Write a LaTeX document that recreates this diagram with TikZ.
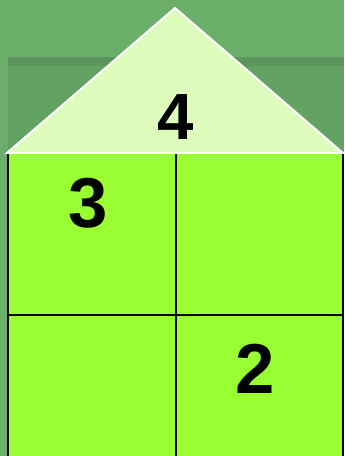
\documentclass[tikz,border=0pt]{standalone}
\usepackage{fontspec}
\setmainfont{Liberation Sans}
\definecolor{bggreen}{HTML}{6AAE6A}
\definecolor{shadegreen}{HTML}{63A263}
\definecolor{roofgreen}{HTML}{DDFBBB}
\definecolor{wallgreen}{HTML}{99FF33}
\tikzset{digit/.style={font=\fontsize{53}{53}\selectfont\bfseries, inner sep=0pt}}
\begin{document}
\begin{tikzpicture}[x=0.75pt,y=-0.75pt]
  \fill[bggreen] (0,0) rectangle (344,456);
  \useasboundingbox (0,0) rectangle (344,456);
  \fill[shadegreen] (8,57) rectangle (344,456);
  \fill[shadegreen!92!black] (8,57) rectangle (344,66);
  \draw[fill=roofgreen, draw=white, line width=1.5pt, line join=miter] (7,153) -- (175,8) -- (343,153) -- cycle;
  \fill[wallgreen] (8,154) rectangle (343,456);
  \coordinate (tl) at (8,154);
  \coordinate (tr) at (343,154);
  \coordinate (bl) at (8,456);
  \coordinate (br) at (343,456);
  \coordinate (tm) at (176,154);
  \coordinate (bm) at (176,456);
  \coordinate (ml) at (8,315);
  \coordinate (mr) at (343,315);
  \draw[line width=2.2pt] (tl) -- (bl) (tr) -- (br) (tm) -- (bm) (ml) -- (mr);
  \draw[white, line width=1.5pt] (7,153) -- (343,153);
  \node[digit, font=\fontsize{49}{49}\selectfont\bfseries] (roof) at (176,117) {4};
  \node[digit] (nw) at (88,203) {3};
  \node[digit] (se) at (255,369) {2};
\end{tikzpicture}
\end{document}
